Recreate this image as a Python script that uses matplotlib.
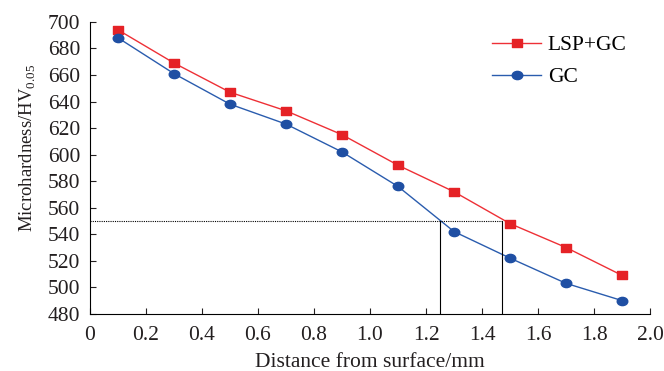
import matplotlib
matplotlib.use("Agg")
import matplotlib.pyplot as plt
from matplotlib.path import Path
from matplotlib.transforms import Affine2D

distance = [0.1, 0.3, 0.5, 0.7, 0.9, 1.1, 1.3, 1.5, 1.7, 1.9]
lsp_gc = [694, 669, 647, 633, 615, 592, 572, 548, 530, 509]
gc = [688, 661, 638, 623, 602, 576, 542, 522, 503, 490]
xticks = [0, 0.2, 0.4, 0.6, 0.8, 1.0, 1.2, 1.4, 1.6, 1.8, 2.0]
xticklabels = ["0", "0.2", "0.4", "0.6", "0.8", "1.0", "1.2", "1.4", "1.6", "1.8", "2.0"]
yticks = list(range(480, 701, 20))
ref_level = 550
ref_x_gc = 1.25
ref_x_lsp = 1.47

plt.rcParams['font.family'] = ['Liberation Serif', 'DejaVu Serif']
plt.rcParams['mathtext.fontset'] = 'custom'
plt.rcParams['mathtext.rm'] = 'Liberation Serif'

# horizontally stretched markers
ellipse = Path.unit_circle().transformed(Affine2D().scale(1.0, 0.78))
rect = Path([(-1, -0.78), (1, -0.78), (1, 0.78), (-1, 0.78), (-1, -0.78)],
            [Path.MOVETO, Path.LINETO, Path.LINETO, Path.LINETO, Path.CLOSEPOLY])

fig = plt.figure(figsize=(6.64, 3.71), dpi=100)
ax = fig.add_axes([0.1355, 0.154, 0.8435, 0.787])

red = '#e52226'
blue = '#1f4fa3'
ax.plot(distance, lsp_gc, color='#ee3036', marker=rect, markersize=7.0, mfc=red, mec=red,
        lw=1.0, label='LSP+GC')
ax.plot(distance, gc, color='#2a5cae', marker=ellipse, markersize=7.6, mfc=blue, mec=blue,
        lw=1.0, label='GC')

ax.plot([0, ref_x_lsp], [ref_level, ref_level], color='black', lw=0.8, ls=(0, (1, 1)))
ax.plot([ref_x_gc, ref_x_gc], [480, ref_level], color='black', lw=0.8)
ax.plot([ref_x_lsp, ref_x_lsp], [480, ref_level], color='black', lw=0.8)

ax.set_xlim(0, 2.0)
ax.set_ylim(480, 700)
ax.set_xticks(xticks)
ax.set_xticklabels(xticklabels)
ax.set_yticks(yticks)
ax.tick_params(direction='in', labelsize=15.5, length=4, width=0.8, colors='#231f20')
ax.tick_params(axis='x', pad=9)
ax.tick_params(axis='y', pad=7)
for s in ['top', 'right']:
    ax.spines[s].set_visible(False)
for s in ['left', 'bottom']:
    ax.spines[s].set_linewidth(0.8)

ax.set_xlabel('Distance from surface/mm', fontsize=15.5, color='#231f20', labelpad=5.5)
ax.set_ylabel(r'Microhardness/HV$_{\mathregular{0.05}}$', fontsize=13.5, color='#231f20')
ax.yaxis.set_label_coords(-0.093, 0.57)

leg = ax.legend(loc='upper right', bbox_to_anchor=(0.993, 1.02), frameon=False, fontsize=15.5,
                handlelength=2.3, handletextpad=0.3, labelspacing=0.55)

fig.savefig('out.png', dpi=100)
